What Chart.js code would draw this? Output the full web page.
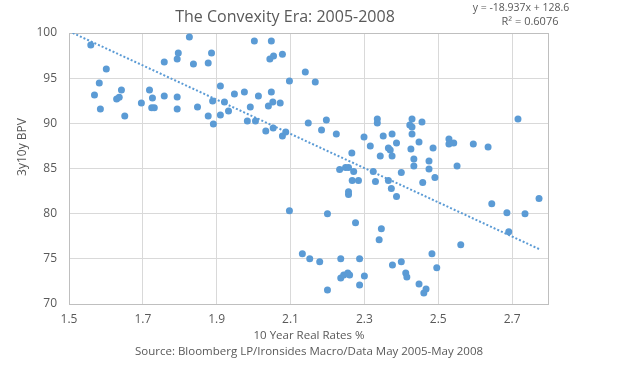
<!DOCTYPE html>
<html>
<head>
<meta charset="utf-8">
<script src="https://cdn.jsdelivr.net/npm/chart.js@4"></script>
<style>
  html, body { margin: 0; padding: 0; background: #fff; }
  #wrap { width: 624px; height: 387px; }
</style>
</head>
<body>
<div id="wrap"><canvas id="chart" width="624" height="387"></canvas></div>
<script>
// --- data ---
const realRates = [
    1.559, 1.569, 1.582, 1.601, 1.585, 1.629, 1.636, 1.642, 1.651, 1.696,
    1.718, 1.726, 1.724, 1.731, 1.758, 1.758, 1.793, 1.796, 1.793, 1.793,
    1.826, 1.837, 1.848, 1.877, 1.886, 1.877, 1.889, 1.891, 1.910, 1.910,
    1.921, 1.932, 1.948, 1.975, 1.983, 1.991, 2.002, 2.005, 2.013, 2.033,
    2.040, 2.044, 2.048, 2.048, 2.052, 2.054, 2.053, 2.072, 2.078, 2.078,
    2.087, 2.097, 2.140, 2.148, 2.167, 2.184, 2.197, 2.224, 2.266, 2.299,
    2.316, 2.335, 2.335, 2.343, 2.351, 2.365, 2.375, 2.370, 2.375, 2.387,
    2.429, 2.423, 2.429, 2.429, 2.456, 2.426, 2.448, 2.434, 2.434, 2.475,
    2.475, 2.486, 2.529, 2.529, 2.542, 2.551, 2.595, 2.635, 2.716, 2.233,
    2.249, 2.257, 2.271, 2.267, 2.284, 2.257, 2.257, 2.324, 2.330, 2.365,
    2.373, 2.387, 2.400, 2.097, 2.200, 2.276, 2.346, 2.340, 2.132, 2.152,
    2.179, 2.236, 2.287, 2.376, 2.400, 2.236, 2.244, 2.255, 2.260, 2.300,
    2.287, 2.200, 2.458, 2.491, 2.645, 2.686, 2.735, 2.773, 2.691, 2.561,
    2.483, 2.412, 2.415, 2.496, 2.448, 2.467, 2.461
];
const bpv = [
    98.67, 93.14, 94.46, 96.01, 91.59, 92.69, 92.88, 93.69, 90.81, 92.25,
    93.69, 92.80, 91.73, 91.73, 96.79, 93.03, 97.12, 97.79, 92.92, 91.59,
    99.56, 96.57, 91.81, 96.68, 97.79, 90.81, 92.47, 89.93, 94.13, 90.92,
    92.36, 91.37, 93.25, 93.47, 90.26, 91.81, 99.11, 90.26, 93.03, 89.15,
    91.92, 97.12, 99.11, 93.47, 92.36, 97.45, 89.48, 92.25, 97.64, 88.60,
    89.04, 94.69, 95.68, 90.04, 94.58, 89.26, 90.37, 88.82, 86.72, 88.49,
    87.49, 90.48, 90.04, 86.38, 88.60, 87.27, 88.82, 87.05, 86.38, 87.82,
    90.48, 89.82, 89.59, 88.82, 90.15, 87.16, 87.93, 86.05, 85.28, 85.83,
    84.94, 87.27, 88.27, 87.71, 87.82, 85.28, 87.71, 87.38, 90.48, 84.89,
    85.11, 85.11, 84.67, 83.67, 83.67, 82.44, 82.11, 84.67, 83.56, 83.67,
    82.78, 81.89, 84.56, 80.33, 80.00, 79.00, 78.33, 77.11, 75.56, 75.00,
    74.67, 75.00, 75.00, 74.33, 74.67, 72.89, 73.22, 73.44, 73.22, 73.11,
    72.11, 71.56, 83.44, 84.00, 81.11, 80.11, 80.00, 81.67, 78.00, 76.56,
    75.56, 73.44, 73.00, 74.00, 72.22, 71.67, 71.22
];

// linear trendline as printed on the chart
const trendSlope = -18.937;
const trendIntercept = 128.6;
const trendRange = [1.5, 2.775];

const xTicks = [1.5, 1.7, 1.9, 2.1, 2.3, 2.5, 2.7];
const yTicks = [70, 75, 80, 85, 90, 95, 100];

const titleText = 'The Convexity Era: 2005-2008';
const eqText = ['y = -18.937x + 128.6', 'R\u00b2 = 0.6076'];
const xTitle = '10 Year Real Rates %';
const yTitle = '3y10y BPV';
const sourceText = 'Source: Bloomberg LP/Ironsides Macro/Data May 2005-May 2008';

// --- chart ---
const FONT = '"Open Sans", sans-serif';
const TXT = '#595959';
const BLUE = '#5b9bd5';

const points = realRates.map((x, i) => ({ x: x, y: bpv[i] }));
const trend = trendRange.map(x => ({ x: x, y: trendSlope * x + trendIntercept }));

// plot frame and the free-standing texts
const extras = {
    id: 'extras',
    beforeDatasetsDraw(chart) {
        const a = chart.chartArea, ctx = chart.ctx;
        ctx.save();
        ctx.strokeStyle = '#bfbfbf';
        ctx.lineWidth = 1;
        ctx.strokeRect(Math.round(a.left) + 0.5, Math.round(a.top) + 0.5,
            Math.round(a.right - a.left) - 1, Math.round(a.bottom - a.top));
        ctx.restore();
    },
    afterDraw(chart) {
        const ctx = chart.ctx;
        ctx.save();
        ctx.fillStyle = TXT;
        ctx.textAlign = 'center';
        ctx.textBaseline = 'middle';

        ctx.font = '16px ' + FONT;
        ctx.fillText(titleText, 285, 17);

        ctx.font = '10.5px ' + FONT;
        ctx.fillText(eqText[0], 521, 8);
        ctx.font = '11px ' + FONT;
        ctx.fillText(eqText[1], 530, 22);

        ctx.font = '11.5px ' + FONT;
        ctx.fillText(xTitle, 309, 336);
        ctx.fillText(sourceText, 309, 352);

        ctx.font = '12px ' + FONT;
        ctx.translate(23, 147);
        ctx.rotate(-Math.PI / 2);
        ctx.fillText(yTitle, 0, 0);
        ctx.restore();
    }
};

new Chart(document.getElementById('chart'), {
    type: 'scatter',
    data: {
        datasets: [
            {
                label: 'trend',
                type: 'line',
                data: trend,
                borderColor: BLUE,
                borderWidth: 2,
                borderDash: [2, 2],
                pointRadius: 0,
                fill: false
            },
            {
                label: '3y10y BPV',
                data: points,
                backgroundColor: BLUE,
                borderWidth: 0,
                pointRadius: 3.5
            }
        ]
    },
    options: {
        responsive: false,
        animation: false,
        layout: { padding: { left: 0, top: 33, right: 75, bottom: 53 } },
        plugins: {
            legend: { display: false },
            tooltip: { enabled: false }
        },
        scales: {
            x: {
                type: 'linear',
                min: 1.5,
                max: 2.8,
                afterBuildTicks: s => { s.ticks = xTicks.map(v => ({ value: v })); },
                afterFit: s => { s.height = 30; },
                grid: { color: '#d9d9d9', drawTicks: false },
                border: { display: false },
                ticks: {
                    padding: 8,
                    color: TXT,
                    font: { family: FONT, size: 12 },
                    callback: v => v.toFixed(1)
                }
            },
            y: {
                min: 70,
                max: 100,
                afterBuildTicks: s => { s.ticks = yTicks.map(v => ({ value: v })); },
                afterFit: s => { s.width = 69; },
                grid: { color: '#d9d9d9', drawTicks: false },
                border: { display: false },
                ticks: {
                    padding: 12,
                    color: TXT,
                    font: { family: FONT, size: 12 }
                }
            }
        }
    },
    plugins: [extras]
});
</script>
</body>
</html>
